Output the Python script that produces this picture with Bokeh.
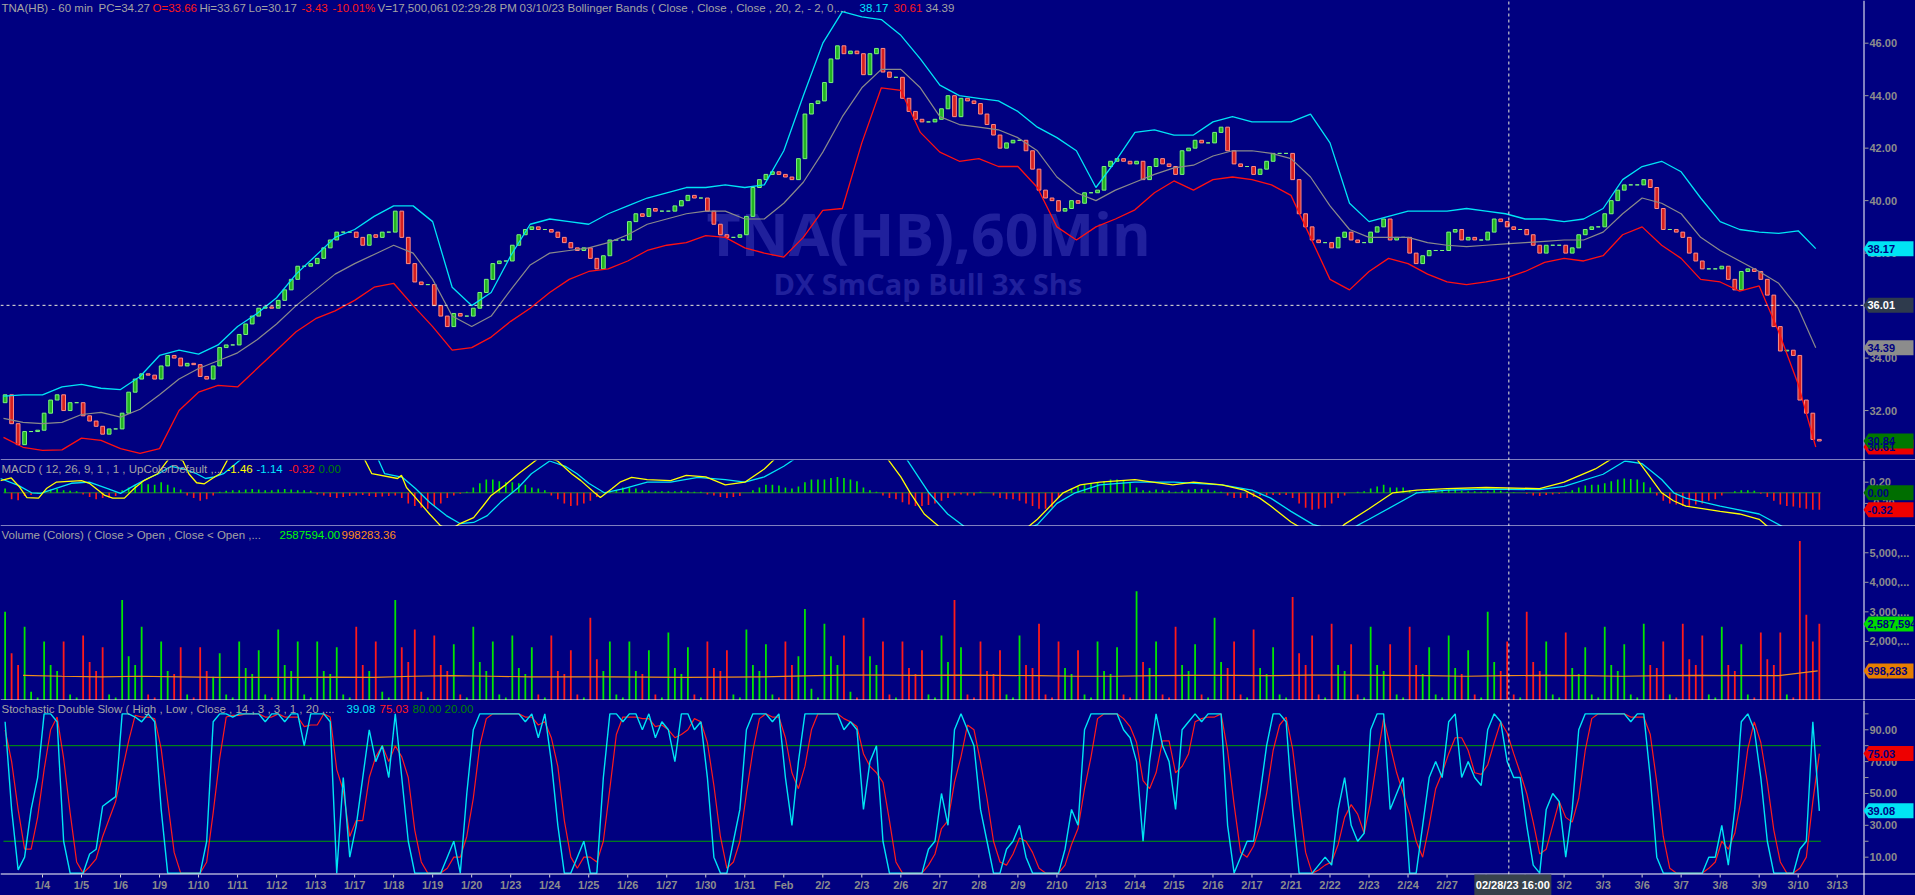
from bokeh.plotting import figure
from bokeh.layouts import column
from bokeh.models import ColumnDataSource, Range1d, Label
from bokeh.core.properties import value
from bokeh.embed import file_html
from bokeh.resources import INLINE

# ---------------- data ----------------
DAY_LABELS = ["1/4", "1/5", "1/6", "1/9", "1/10", "1/11", "1/12", "1/13", "1/17", "1/18",
              "1/19", "1/20", "1/23", "1/24", "1/25", "1/26", "1/27", "1/30", "1/31", "Feb",
              "2/2", "2/3", "2/6", "2/7", "2/8", "2/9", "2/10", "2/13", "2/14", "2/15",
              "2/16", "2/17", "2/21", "2/22", "2/23", "2/24", "2/27", "2/28", "3/1", "3/2",
              "3/3", "3/6", "3/7", "3/8", "3/9", "3/10", "3/13"]

FIRST_OPEN = 32.3
# 2-hour closes, 6 per session, first session = 1/3
CLOSE = [
    32.6, 31.5, 30.7, 31.2, 31.2, 31.25,
    31.9, 32.4, 32.6, 32.0, 32.3, 32.3,
    31.8, 31.6, 31.4, 31.1, 31.3, 31.3,
    31.9, 32.7, 33.2, 33.4, 33.35, 33.2,
    33.7, 34.1, 34.0, 33.7, 33.8, 33.75,
    33.3, 33.2, 33.7, 34.4, 34.5, 34.5,
    34.9, 35.3, 35.6, 35.9, 35.95, 35.9,
    36.2, 36.6, 37.0, 37.5, 37.5, 37.6,
    37.8, 38.2, 38.5, 38.8, 38.8, 38.8,
    38.6, 38.3, 38.7, 38.6, 38.8, 38.8,
    39.6, 38.6, 37.6, 36.9, 36.8, 36.8,
    36.0, 35.6, 35.2, 35.7, 35.6, 35.6,
    35.9, 36.5, 37.0, 37.6, 37.7, 37.7,
    38.3, 38.7, 38.9, 39.0, 38.9, 38.9,
    38.8, 38.6, 38.4, 38.2, 38.1, 38.2,
    37.8, 37.4, 37.9, 38.5, 38.5, 38.5,
    39.2, 39.5, 39.4, 39.7, 39.6, 39.6,
    39.6, 39.8, 40.0, 40.2, 40.1, 40.1,
    39.6, 39.1, 38.7, 38.6, 38.6, 38.7,
    39.4, 40.5, 40.8, 41.0, 41.1, 41.0,
    40.9, 40.8, 41.6, 43.3, 43.7, 43.8,
    44.5, 45.4, 45.9, 45.6, 45.7, 45.6,
    44.8, 45.6, 45.8, 44.9, 44.7, 44.7,
    43.9, 43.4, 43.1, 43.0, 43.0, 43.1,
    43.5, 44.0, 43.2, 43.9, 43.8, 43.7,
    43.3, 42.9, 42.5, 42.0, 42.2, 42.3,
    42.3, 41.9, 41.2, 40.4, 40.1, 40.0,
    39.6, 39.7, 40.0, 39.9, 40.3, 40.3,
    40.4, 41.3, 41.5, 41.6, 41.5, 41.4,
    41.5, 40.8, 41.3, 41.6, 41.4, 41.3,
    41.0, 41.9, 42.0, 42.3, 42.2, 42.2,
    42.6, 42.8, 41.9, 41.4, 41.3, 41.3,
    41.0, 41.2, 41.5, 41.8, 41.8, 41.8,
    40.8, 39.5, 39.0, 38.5, 38.4, 38.4,
    38.2, 38.6, 38.8, 38.5, 38.4, 38.4,
    38.8, 39.0, 39.3, 38.5, 38.6, 38.6,
    38.0, 37.6, 37.9, 38.1, 38.1, 38.1,
    38.8, 38.9, 38.5, 38.6, 38.5, 38.5,
    38.8, 39.3, 39.2, 39.0, 38.9, 38.9,
    38.7, 38.3, 38.0, 38.3, 38.3, 38.3,
    38.0, 38.2, 38.7, 38.9, 39.0, 39.0,
    39.5, 40.0, 40.4, 40.6, 40.6, 40.6,
    40.8, 40.5, 39.7, 38.9, 38.9, 38.8,
    38.6, 38.0, 37.7, 37.4, 37.4, 37.4,
    37.5, 37.0, 36.6, 37.3, 37.4, 37.3,
    37.0, 36.4, 35.2, 34.27, 34.3, 34.1,
    32.4, 31.9, 30.9, 30.84,
]

BB_DAY = [-1.0, -0.5, 0.0, 0.5, 1.0, 1.5, 2.0, 2.5, 3.0, 3.5, 4.0, 4.5, 5.0, 5.5, 6.0, 6.5,
          7.0, 7.5, 8.0, 8.5, 9.0, 9.5, 10.0, 10.5, 11.0, 11.5, 12.0, 12.5, 13.0, 13.5, 14.0,
          14.5, 15.0, 15.5, 16.0, 16.5, 17.0, 17.5, 18.0, 18.5, 19.0, 19.5, 20.0, 20.5, 21.0,
          21.5, 22.0, 22.5, 23.0, 23.5, 24.0, 24.5, 25.0, 25.5, 26.0, 26.5, 27.0, 27.5, 28.0,
          28.5, 29.0, 29.5, 30.0, 30.5, 31.0, 31.5, 32.0, 32.5, 33.0, 33.5, 34.0, 34.5, 35.0,
          35.5, 36.0, 36.5, 37.0, 37.5, 38.0, 38.5, 39.0, 39.5, 40.0, 40.5, 41.0, 41.5, 42.0,
          42.5, 43.0, 43.5, 44.0, 44.5, 45.0, 45.45]
BB_UPPER = [32.55, 32.6, 32.6, 32.9, 33.0, 32.85, 32.8, 33.3, 34.1, 34.3, 34.15, 34.5, 35.2,
            35.7, 36.3, 37.2, 37.9, 38.6, 38.9, 39.4, 39.8, 39.8, 39.2, 36.7, 36.0, 36.5, 37.9,
            39.1, 39.3, 39.2, 39.1, 39.5, 39.8, 40.1, 40.3, 40.5, 40.5, 40.6, 40.5, 40.6, 41.9,
            44.0, 46.0, 47.2, 47.0, 46.9, 46.3, 45.4, 44.4, 44.0, 43.9, 43.8, 43.4, 42.8, 42.4,
            41.9, 40.5, 41.5, 42.6, 42.7, 42.5, 42.5, 43.0, 43.2, 43.0, 43.0, 43.0, 43.3, 42.2,
            39.9, 39.2, 39.4, 39.6, 39.6, 39.6, 39.7, 39.6, 39.5, 39.3, 39.3, 39.2, 39.3, 39.7,
            40.8, 41.3, 41.5, 41.1, 40.1, 39.2, 38.9, 38.8, 38.75, 38.85, 38.17]
BB_MIDDLE = [31.7, 31.55, 31.5, 31.55, 31.85, 31.93, 31.75, 32.05, 32.6, 33.2, 33.6, 33.9,
             34.2, 34.7, 35.3, 36.0, 36.6, 37.2, 37.6, 37.95, 38.3, 38.0, 37.0, 35.6, 35.2,
             35.6, 36.6, 37.55, 38.0, 38.1, 38.2, 38.4, 38.7, 39.1, 39.3, 39.5, 39.6, 39.6,
             39.3, 39.3, 39.9, 40.7, 41.85, 43.2, 44.3, 45.0, 45.0, 44.3, 43.2, 42.9, 42.8,
             42.7, 42.4, 41.9, 40.9, 40.3, 40.0, 40.4, 40.7, 41.0, 41.25, 41.35, 41.7, 41.9,
             41.9, 41.8, 41.6, 40.9, 39.8, 38.9, 38.6, 38.6, 38.6, 38.4, 38.3, 38.25, 38.3,
             38.35, 38.4, 38.45, 38.5, 38.5, 38.8, 39.5, 40.1, 39.9, 39.5, 38.6, 38.1, 37.7,
             37.3, 36.85, 35.9, 34.39]
BB_LOWER = [30.98, 30.6, 30.48, 30.5, 30.95, 30.86, 30.55, 30.37, 30.55, 32.0, 32.7, 32.96,
            32.9, 33.6, 34.3, 35.0, 35.5, 35.8, 36.2, 36.7, 36.85, 36.0, 35.2, 34.3, 34.4,
            34.8, 35.4, 35.9, 36.5, 37.0, 37.3, 37.4, 37.7, 38.1, 38.3, 38.4, 38.67, 38.6,
            38.2, 38.0, 37.85, 38.6, 39.63, 39.7, 42.2, 44.3, 44.2, 42.6, 41.85, 41.5, 41.6,
            41.3, 41.3, 40.5, 39.0, 38.5, 39.0, 39.3, 39.65, 40.3, 40.75, 40.4, 40.8, 40.9,
            40.8, 40.6, 40.2, 38.6, 37.0, 36.6, 37.3, 37.8, 37.6, 37.2, 36.9, 36.8, 36.9,
            37.05, 37.3, 37.65, 37.8, 37.7, 37.9, 38.7, 39.0, 38.3, 37.8, 37.0, 36.9, 36.55,
            36.75, 35.0, 33.0, 30.61]

MACD_DAY = [-1.08, -0.8, -0.6, -0.4, -0.1, 0.1, 0.35, 1.0, 1.2, 1.6, 1.8, 2.1, 2.35, 2.6, 2.95,
            3.3, 3.6, 3.75, 3.95, 4.15, 4.35, 4.55, 4.8, 5.5, 7.0, 8.0, 8.44, 9.1, 9.2, 9.33,
            9.56, 9.92, 10.2, 10.45, 10.7, 11.05, 11.3, 11.5, 11.85, 12.2, 12.8, 13.2, 13.56,
            13.8, 14.15, 14.3, 14.6, 14.8, 15.1, 15.5, 16.1, 16.5, 17.0, 17.5, 18.0, 18.5, 19.0,
            20.0, 21.0, 21.5, 22.0, 22.24, 22.6, 23.0, 24.0, 25.0, 25.5, 26.16, 26.6, 27.1,
            28.0, 28.97, 29.5, 30.23, 30.8, 31.2, 31.48, 32.0, 32.57, 33.0, 33.36, 34.0, 34.61,
            35.23, 36.0, 37.0, 38.37, 39.0, 39.8, 40.24, 40.8, 41.2, 41.5, 41.8, 42.12, 43.0,
            43.5, 44.0, 44.63, 45.44]
MACD_LINE = [0.23, 0.28, 0.12, -0.09, -0.1, 0.08, 0.2, 0.23, 0.18, -0.05, -0.1, -0.1, 0.08,
             0.23, 0.36, 0.7, 0.6, 0.36, 0.19, 0.17, 0.27, 0.36, 0.7, 1.1, 1.4, 1.0, 0.36, 0.27,
             0.33, 0.1, -0.09, -0.4, -0.62, -0.7, -0.58, -0.47, -0.24, -0.05, 0.14, 0.36, 0.7,
             0.6, 0.36, 0.23, 0.0, -0.09, 0.08, 0.2, 0.29, 0.25, 0.23, 0.33, 0.3, 0.15, 0.2,
             0.45, 0.8, 1.6, 1.4, 0.8, 0.3, 0.0, -0.4, -0.65, -0.9, -0.8, -0.5, 0.0, 0.15, 0.2,
             0.25, 0.15, 0.2, 0.15, 0.05, -0.1, -0.25, -0.55, -0.8, -0.9, -0.6, -0.3, 0.0, 0.05,
             0.08, 0.1, 0.08, 0.2, 0.45, 0.65, 0.7, 0.3, 0.0, -0.15, -0.25, -0.35, -0.4, -0.5,
             -0.9, -1.46]
SIGNAL_DAY = [-1.08, -0.62, -0.28, -0.05, 0.74, 1.2, 1.67, 2.0, 2.36, 2.69, 2.97, 3.3, 3.6,
              3.95, 4.18, 4.4, 4.64, 5.2, 7.0, 8.5, 8.77, 9.23, 9.56, 9.92, 10.35, 10.7, 11.05,
              11.4, 11.74, 12.2, 12.53, 13.0, 13.4, 13.7, 14.0, 14.4, 14.9, 15.5, 16.1, 16.8,
              17.5, 18.0, 18.5, 19.0, 20.0, 21.0, 22.0, 22.72, 23.2, 23.65, 24.5, 25.5, 26.0,
              26.47, 27.1, 28.0, 29.0, 30.23, 31.0, 31.48, 32.0, 32.57, 33.36, 34.0, 35.23, 36.0,
              37.0, 38.37, 39.0, 40.0, 40.56, 41.0, 41.5, 41.81, 42.12, 43.0, 44.0, 44.63, 45.44]
SIGNAL_LINE = [0.27, 0.14, 0.0, -0.01, 0.18, 0.2, 0.08, -0.01, 0.14, 0.27, 0.36, 0.5, 0.45,
               0.36, 0.27, 0.3, 0.36, 0.7, 1.2, 0.8, 0.36, 0.29, 0.08, -0.18, -0.43, -0.58,
               -0.56, -0.43, -0.18, 0.1, 0.36, 0.6, 0.5, 0.36, 0.18, 0.0, 0.08, 0.2, 0.2, 0.29,
               0.25, 0.2, 0.3, 0.5, 1.0, 1.2, 0.8, 0.0, -0.4, -0.65, -0.9, -0.6, -0.2, 0.0, 0.15,
               0.2, 0.2, 0.15, 0.05, -0.1, -0.35, -0.6, -0.75, -0.5, 0.0, 0.05, 0.07, 0.06, 0.12,
               0.35, 0.6, 0.55, 0.25, 0.0, -0.1, -0.25, -0.4, -0.65, -1.14]
# histogram, 6 per session
MACD_HIST = [
    0.08, -0.12, -0.14, -0.06, -0.04, -0.02,
    0.03, 0.06, 0.07, 0.05, 0.04, 0.03,
    -0.03, -0.08, -0.12, -0.1, -0.09, -0.06,
    0.05, 0.1, 0.15, 0.18, 0.16, 0.15,
    0.2, 0.15, 0.1, 0.06, -0.05, -0.1,
    -0.15, -0.12, -0.05, 0.02, 0.04, 0.05,
    0.05, 0.06, 0.07, 0.06, 0.05, 0.05,
    0.06, 0.07, 0.06, 0.05, 0.05, 0.04,
    -0.03, -0.05, -0.08, -0.1, -0.08, -0.06,
    -0.05, -0.04, -0.06, -0.08, -0.07, -0.06,
    -0.05, -0.1, -0.2, -0.25, -0.28, -0.3,
    -0.25, -0.2, -0.1, -0.05, -0.02, 0.02,
    0.1, 0.18, 0.25, 0.25, 0.22, 0.2,
    0.2, 0.18, 0.15, 0.1, 0.08, 0.05,
    -0.05, -0.12, -0.2, -0.25, -0.24, -0.2,
    -0.15, -0.08, 0.0, 0.03, 0.05, 0.1,
    0.1, 0.08, 0.05, 0.04, 0.03, 0.03,
    0.03, 0.03, 0.04, 0.03, 0.02, 0.02,
    -0.03, -0.05, -0.08, -0.1, -0.08, -0.06,
    0.0, 0.05, 0.1, 0.15, 0.15, 0.14,
    0.1, 0.08, 0.12, 0.2, 0.25, 0.25,
    0.25, 0.28, 0.3, 0.28, 0.25, 0.22,
    0.1, 0.05, 0.02, -0.05, -0.1, -0.12,
    -0.18, -0.22, -0.25, -0.25, -0.23, -0.2,
    -0.15, -0.1, -0.05, -0.03, -0.05, -0.05,
    0.02, 0.0, -0.05, -0.1, -0.12, -0.12,
    -0.15, -0.2, -0.25, -0.3, -0.3, -0.28,
    -0.1, 0.0, 0.08, 0.12, 0.15, 0.18,
    0.2, 0.22, 0.25, 0.25, 0.23, 0.2,
    0.1, 0.05, 0.04, 0.06, 0.05, 0.04,
    0.02, 0.04, 0.06, 0.07, 0.07, 0.06,
    0.04, 0.02, -0.05, -0.1, -0.1, -0.1,
    -0.08, -0.06, -0.05, -0.04, -0.04, -0.04,
    -0.1, -0.2, -0.28, -0.32, -0.3, -0.28,
    -0.2, -0.1, -0.05, 0.0, 0.02, 0.03,
    0.08, 0.12, 0.15, 0.1, 0.1, 0.1,
    0.05, 0.02, 0.03, 0.05, 0.05, 0.04,
    0.06, 0.06, 0.04, 0.03, 0.03, 0.02,
    0.03, 0.05, 0.04, 0.02, 0.01, 0.0,
    -0.02, -0.05, -0.06, -0.04, -0.03, -0.02,
    0.02, 0.05, 0.1, 0.14, 0.15, 0.15,
    0.18, 0.22, 0.25, 0.27, 0.26, 0.25,
    0.2, 0.1, -0.05, -0.15, -0.2, -0.22,
    -0.25, -0.25, -0.22, -0.2, -0.15, -0.12,
    -0.05, 0.0, 0.03, 0.05, 0.05, 0.04,
    -0.02, -0.08, -0.15, -0.22, -0.25, -0.26,
    -0.28, -0.3, -0.32, -0.32,
]

# volume (millions), 6 per session
VOLUME_M = [
    3.0, 1.6, 1.2, 2.5, 0.3, 0.1,
    2.0, 1.2, 1.0, 2.0, 0.2, 0.1,
    2.2, 1.3, 1.0, 1.8, 0.2, 0.1,
    3.4, 1.5, 1.2, 2.5, 0.2, 0.1,
    2.0, 1.0, 0.9, 1.8, 0.2, 0.1,
    1.8, 1.0, 0.8, 1.6, 0.2, 0.1,
    2.0, 1.1, 0.9, 1.7, 0.2, 0.1,
    2.4, 1.2, 1.0, 2.0, 0.2, 0.1,
    2.0, 1.0, 0.9, 1.8, 0.2, 0.1,
    2.5, 1.2, 1.0, 2.0, 0.3, 0.1,
    3.4, 1.8, 1.3, 2.4, 0.3, 0.1,
    2.2, 1.2, 1.0, 1.9, 0.2, 0.1,
    2.5, 1.3, 1.0, 2.0, 0.2, 0.1,
    2.2, 1.1, 0.9, 1.8, 0.2, 0.1,
    2.2, 1.0, 0.9, 1.7, 0.2, 0.1,
    2.8, 1.4, 1.0, 2.0, 0.2, 0.1,
    2.0, 1.0, 0.9, 1.7, 0.2, 0.1,
    2.3, 1.1, 0.9, 1.8, 0.2, 0.1,
    2.0, 1.1, 1.0, 1.7, 0.2, 0.1,
    2.4, 1.2, 1.0, 1.9, 0.2, 0.1,
    2.0, 1.2, 1.5, 3.1, 0.4, 0.1,
    2.6, 1.5, 1.2, 2.2, 0.3, 0.1,
    2.8, 1.5, 1.2, 2.0, 0.2, 0.1,
    2.0, 1.1, 0.9, 1.7, 0.2, 0.1,
    2.2, 1.3, 3.4, 1.8, 0.2, 0.1,
    2.0, 1.0, 0.9, 1.7, 0.2, 0.1,
    2.2, 1.2, 1.1, 2.6, 0.2, 0.1,
    2.0, 1.1, 0.9, 1.7, 0.2, 0.1,
    2.0, 1.0, 0.9, 1.8, 0.2, 0.1,
    3.7, 1.3, 1.1, 2.0, 0.2, 0.1,
    2.5, 1.2, 1.0, 1.9, 0.2, 0.1,
    2.8, 1.3, 1.1, 2.0, 0.2, 0.1,
    2.4, 1.1, 0.9, 1.8, 0.2, 0.1,
    3.5, 1.6, 1.2, 2.2, 0.2, 0.1,
    2.6, 1.2, 1.0, 1.9, 0.2, 0.1,
    2.5, 1.2, 1.0, 1.9, 0.2, 0.1,
    2.5, 1.2, 0.9, 1.8, 0.2, 0.1,
    2.2, 1.1, 0.9, 1.7, 0.2, 0.1,
    3.0, 1.3, 1.0, 2.0, 0.2, 0.1,
    3.0, 1.3, 1.0, 2.0, 0.2, 0.1,
    2.3, 1.1, 0.9, 1.8, 0.2, 0.1,
    2.5, 1.2, 1.0, 1.9, 0.2, 0.1,
    2.6, 1.2, 1.1, 2.0, 0.2, 0.1,
    2.6, 1.4, 1.2, 2.2, 0.2, 0.1,
    2.5, 1.2, 1.0, 1.9, 0.2, 0.1,
    2.3, 1.4, 1.2, 2.3, 0.2, 0.1,
    5.4, 2.9, 2.0, 2.6,
]
VOLAVG_M = [0.85, 0.82, 0.8, 0.82, 0.8, 0.78, 0.78, 0.78, 0.79, 0.78, 0.82, 0.84, 0.82, 0.8,
            0.8, 0.8, 0.79, 0.78, 0.79, 0.8, 0.83, 0.86, 0.86, 0.85, 0.86, 0.85, 0.84, 0.82,
            0.82, 0.84, 0.85, 0.85, 0.84, 0.86, 0.86, 0.85, 0.84, 0.82, 0.84, 0.85, 0.84, 0.82,
            0.84, 0.85, 0.84, 0.84, 1.0]

# stochastic %K (cyan) and %D (red), 6 per session
STOCH_K = [
    95, 40, 2, 10, 40, 60,
    100, 100, 95, 20, 0, 0,
    0, 12, 15, 42, 45, 48,
    100, 100, 98, 95, 100, 95,
    40, 0, 0, 0, 0, 0,
    0, 20, 95, 100, 100, 98,
    100, 100, 100, 100, 95, 100,
    100, 95, 100, 100, 80, 100,
    100, 100, 95, 0, 60, 10,
    30, 60, 90, 70, 80, 60,
    100, 60, 20, 0, 0, 0,
    0, 0, 10, 20, 0, 50,
    90, 100, 100, 100, 100, 100,
    100, 100, 95, 100, 85, 100,
    70, 30, 0, 0, 10, 20,
    0, 0, 60, 100, 100, 95,
    100, 100, 90, 100, 85, 95,
    90, 70, 100, 100, 90, 95,
    60, 10, 0, 0, 20, 40,
    90, 100, 100, 100, 95, 100,
    60, 30, 70, 100, 100, 100,
    100, 100, 100, 90, 95, 90,
    40, 70, 80, 20, 0, 0,
    0, 0, 0, 0, 15, 20,
    50, 30, 90, 100, 90, 80,
    40, 20, 0, 0, 15, 20,
    30, 10, 0, 0, 0, 0,
    0, 15, 40, 30, 90, 100,
    100, 100, 100, 100, 90, 85,
    70, 20, 70, 100, 80, 70,
    40, 90, 95, 100, 95, 100,
    100, 100, 30, 0, 10, 20,
    20, 50, 80, 100, 100, 95,
    40, 0, 0, 0, 5, 10,
    5, 40, 60, 30, 20, 25,
    90, 100, 100, 40, 50, 60,
    0, 0, 30, 60, 70, 60,
    95, 100, 60, 70, 60, 55,
    90, 100, 95, 70, 60, 60,
    30, 5, 0, 40, 50, 45,
    10, 40, 90, 100, 100, 100,
    100, 100, 100, 100, 95, 100,
    100, 60, 10, 0, 0, 0,
    0, 0, 0, 0, 10, 10,
    30, 5, 40, 95, 100, 90,
    60, 20, 0, 0, 0, 0,
    15, 20, 95, 39.08,
]
STOCH_D = [
    90, 70, 40, 15, 15, 35,
    65, 90, 98, 72, 38, 7,
    0, 4, 9, 23, 34, 45,
    64, 83, 99, 98, 98, 97,
    78, 45, 13, 0, 0, 0,
    0, 7, 38, 72, 98, 99,
    99, 100, 100, 100, 98, 98,
    100, 98, 98, 98, 92, 93,
    93, 100, 98, 65, 52, 23,
    33, 33, 60, 73, 80, 70,
    80, 73, 60, 27, 7, 0,
    0, 0, 3, 10, 10, 23,
    47, 80, 97, 100, 100, 100,
    100, 100, 98, 98, 93, 95,
    85, 67, 33, 10, 3, 10,
    10, 7, 20, 53, 87, 98,
    98, 98, 97, 97, 92, 93,
    90, 85, 87, 90, 97, 95,
    82, 55, 23, 3, 7, 20,
    50, 77, 97, 100, 98, 98,
    85, 63, 53, 67, 90, 100,
    100, 100, 100, 97, 95, 92,
    75, 67, 63, 57, 33, 7,
    0, 0, 0, 0, 5, 12,
    28, 33, 57, 73, 93, 90,
    70, 47, 20, 7, 5, 12,
    22, 20, 13, 3, 0, 0,
    0, 5, 18, 28, 53, 73,
    97, 100, 100, 100, 97, 92,
    82, 58, 53, 63, 83, 83,
    63, 67, 75, 95, 97, 98,
    98, 100, 77, 43, 13, 10,
    17, 30, 50, 77, 93, 98,
    78, 45, 13, 0, 2, 5,
    7, 18, 35, 43, 37, 25,
    45, 72, 97, 80, 63, 50,
    37, 20, 10, 30, 53, 63,
    75, 85, 85, 77, 63, 62,
    68, 82, 95, 88, 75, 63,
    50, 32, 12, 15, 30, 45,
    35, 32, 47, 77, 97, 100,
    100, 100, 100, 100, 98, 98,
    98, 87, 57, 23, 3, 0,
    0, 0, 0, 0, 3, 7,
    20, 15, 25, 47, 78, 95,
    82, 57, 27, 7, 0, 0,
    3, 10, 45, 75.03,
]

# axis ticks and last-value tags
PRICE_TICKS = [32, 34, 36, 38, 40, 42, 44, 46]
PRICE_TAGS = [30.61, 30.84, 34.39, 36.01, 38.17]
MACD_TICKS = [-0.2, 0.0, 0.2]
MACD_TAGS = [0.0, -0.32]
VOL_TICKS_M = [1, 2, 3, 4, 5]
VOL_TAGS = [2587594, 998283]
STOCH_TICKS = [10, 30, 50, 70, 90]
STOCH_MINOR = [20, 40, 60, 80, 100]
STOCH_TAGS = [75.03, 39.08]
STOCH_LEVELS = [80, 20]

CROSS_PRICE = 36.01
CROSS_BAR = 37 * 12 + 7          # 02/28/23 16:00 bar

# ---------------- layout helpers ----------------
BG = "#000080"
FONT = "Liberation Sans"
X0_PX, SLOT_PX = 42.0, 3.2513     # pixel of first date tick, pixels per hourly slot
W = 1915
AXIS_PX = 1863
NAVY = "#000080"
GREY = "#a4a4a4"
AXGREY = "#8c8c8c"


def px_to_x(px):
    return (px - X0_PX) / SLOT_PX


XR = Range1d(px_to_x(0), px_to_x(W))

n = len(CLOSE)
bar_x = [12 * (k // 6 - 1) + 2 * (k % 6) + 0.5 for k in range(n)]
opens = [FIRST_OPEN] + CLOSE[:-1]
up = [c >= o for o, c in zip(opens, CLOSE)]
x_first, x_last = bar_x[0] - 0.5, bar_x[-1] + 0.5


class Panel:
    def __init__(self, top_px, h, yfun):
        self.top_px, self.h, self.yfun = top_px, h, yfun
        y0, y1 = yfun(top_px + h), yfun(top_px)
        p = figure(frame_width=W, frame_height=h, x_range=XR, y_range=Range1d(y0, y1),
                   output_backend="svg", toolbar_location=None, x_axis_location=None,
                   y_axis_location=None, min_border=0, background_fill_color=BG,
                   border_fill_color=BG, outline_line_color=None)
        p.grid.visible = False
        self.p = p

    def y(self, px):
        return self.yfun(px)

    def hline(self, px, color="white"):
        yy = self.y(px)
        self.p.segment(x0=[px_to_x(0)], x1=[px_to_x(W)], y0=[yy], y1=[yy],
                       line_color=color, line_width=1)

    def right_axis(self, ticks, labels, minor=(), bottom_px=None):
        p = self.p
        b = self.top_px + self.h if bottom_px is None else bottom_px
        p.segment(x0=[px_to_x(AXIS_PX + 0.5)], x1=[px_to_x(AXIS_PX + 0.5)],
                  y0=[self.y(b)], y1=[self.y(self.top_px)], line_color="white",
                  line_width=1)
        allt = list(ticks) + list(minor)
        p.segment(x0=[px_to_x(AXIS_PX + 1)] * len(allt), x1=[px_to_x(AXIS_PX + 5)] * len(allt),
                  y0=allt, y1=allt, line_color="#9a9a9a", line_width=1)
        p.text(x=[px_to_x(AXIS_PX + 6)] * len(ticks), y=list(ticks), text=labels,
               text_color=AXGREY, text_font=value(FONT), text_font_size="11px",
               text_font_style="bold", text_baseline="middle", text_align="left")

    def tags(self, vals, texts, fills, fgs):
        p = self.p
        unit = self.yfun(self.top_px) - self.yfun(self.top_px + 1)   # data units per px
        xs, ys = [], []
        for v in vals:
            t, b = v + 7.5 * unit, v - 7.5 * unit
            xs.append([px_to_x(AXIS_PX), px_to_x(AXIS_PX + 5), px_to_x(1913), px_to_x(1913),
                       px_to_x(AXIS_PX + 5)])
            ys.append([v, t, t, b, b])
        p.patches(xs, ys, fill_color=fills, line_color=None)
        p.text(x=[px_to_x(AXIS_PX + 4)] * len(vals), y=vals, text=texts, text_color=fgs,
               text_font=value(FONT), text_font_size="11px", text_font_style="bold",
               text_baseline="middle", text_align="left")

    def header(self, y_px, parts):
        for px, txt, col in parts:
            self.p.add_layout(Label(x=px_to_x(px + 1), y=self.y(y_px), text=txt,
                                    text_color=col, text_font=FONT, text_font_size="11.5px",
                                    text_baseline="middle", text_align="left"))

    def crosshair(self, bottom_px=None):
        b = self.top_px + self.h if bottom_px is None else bottom_px
        self.p.segment(x0=[CROSS_BAR], x1=[CROSS_BAR], y0=[self.y(b)], y1=[self.y(self.top_px)],
                       line_color="#eeeed8", line_width=1, line_dash="3 3")


# ---------------- price panel ----------------
P_TOP, P_PX = 47.627, 26.24
price = Panel(0, 460, lambda px: P_TOP - px / P_PX)
pp = price.p
pp.add_layout(Label(x=px_to_x(706), y=price.y(232), text="TNA(HB),60Min", text_color="#20209c",
                    text_font="Open Sans", text_font_size="59px", text_font_style="bold",
                    text_baseline="alphabetic", level="underlay"))
pp.add_layout(Label(x=px_to_x(773), y=price.y(283), text="DX SmCap Bull 3x Shs",
                    text_color="#20209c", text_font="Open Sans", text_font_size="29px",
                    text_font_style="bold", text_baseline="alphabetic", level="underlay"))

csrc = ColumnDataSource(dict(
    x=bar_x,
    top=[max(o, c) for o, c in zip(opens, CLOSE)],
    bottom=[min(o, c) for o, c in zip(opens, CLOSE)],
    fill=["#22b422" if u else "#d42020" for u in up],
    line=["#7cf47c" if u else "#ff8c84" for u in up],
))
pp.vbar(x="x", width=1.15, top="top", bottom="bottom", fill_color="fill",
        line_color="line", line_width=1, source=csrc)

bbx = [12 * d for d in BB_DAY]
pp.line(bbx, BB_MIDDLE, line_color="#8a8a8a", line_width=1.2)
pp.line(bbx, BB_UPPER, line_color="#00e4f4", line_width=1.3)
pp.line(bbx, BB_LOWER, line_color="#ff1010", line_width=1.3)

pp.segment(x0=[px_to_x(0)], x1=[px_to_x(AXIS_PX)], y0=[CROSS_PRICE], y1=[CROSS_PRICE],
           line_color="#eeeed8", line_width=1, line_dash="3 3")
price.crosshair()
price.hline(459.5)
price.right_axis(PRICE_TICKS, ["%.2f" % t for t in PRICE_TICKS])
price.tags(PRICE_TAGS, ["%.2f" % v for v in PRICE_TAGS],
           ["#ee0000", "#007800", "#8c8c8c", "#2e3a4c", "#00e4f4"],
           [NAVY, NAVY, NAVY, "#ffffff", NAVY])
price.header(7, [(0, "TNA(HB) - 60 min", GREY), (97, "PC=34.27", GREY),
                 (151, "O=33.66", "#ff1a1a"), (198, "Hi=33.67", GREY),
                 (247, "Lo=30.17", GREY), (300, "-3.43", "#ff1a1a"),
                 (331, "-10.01%", "#ff1a1a"), (376, "V=17,500,061", GREY),
                 (450, "02:29:28 PM", GREY), (518, "03/10/23", GREY),
                 (566, "Bollinger Bands ( Close , Close , Close , 20, 2, - 2, 0,...", GREY),
                 (858, "38.17", "#00e8ff"), (892, "30.61", "#ff1a1a"), (924, "34.39", GREY)])

# ---------------- MACD panel ----------------
M_ZERO_PX, M_UNIT = 492.3, 0.01887
macd = Panel(460, 66, lambda px: (M_ZERO_PX - px) * M_UNIT)
pm = macd.p
pm.line([x_first, x_last], [0, 0], line_color="#2f7f2f", line_width=1)
hist_col = ["#00e600" if v >= 0 else "#ff1a1a" for v in MACD_HIST]
pm.vbar(x=bar_x, width=0.5, top=MACD_HIST, bottom=0, fill_color=hist_col, line_color=None)
pm.line([12 * d for d in SIGNAL_DAY], SIGNAL_LINE, line_color="#00e4f4", line_width=1.3)
pm.line([12 * d for d in MACD_DAY], MACD_LINE, line_color="#ffff00", line_width=1.3)
macd.crosshair()
macd.hline(525.5)
macd.right_axis(MACD_TICKS, ["%.2f" % t for t in MACD_TICKS])
macd.tags(MACD_TAGS, ["%.2f" % v for v in MACD_TAGS], ["#006e00", "#ee0000"], [NAVY, NAVY])
macd.header(468, [(0, "MACD ( 12, 26, 9, 1 , 1 , UpColorDefault ,...", GREY),
                  (225, "-1.46", "#ffff00"), (255, "-1.14", "#00e8ff"),
                  (287, "-0.32", "#ff1a1a"), (317, "0.00", "#008000")])

# ---------------- volume panel ----------------
V_ZERO_PX, V_PX_PER_M = 700.0, 29.55
vol = Panel(526, 174, lambda px: (V_ZERO_PX - px) / V_PX_PER_M * 1e6)
pv = vol.p
vol_col = ["#00e600" if u else "#ff1a1a" for u in up]
pv.vbar(x=bar_x, width=0.55, top=[v * 1e6 for v in VOLUME_M], bottom=0,
        fill_color=vol_col, line_color=None)
pv.line([12 * d + 6 for d in range(-1, len(VOLAVG_M) - 1)], [v * 1e6 for v in VOLAVG_M],
        line_color="#f08c1c", line_width=1.2)
vol.crosshair()
vol.hline(699.5)
vol.right_axis([t * 1e6 for t in VOL_TICKS_M], ["%d,000,..." % t for t in VOL_TICKS_M])
vol.tags(VOL_TAGS, ["{:,}".format(v) for v in VOL_TAGS], ["#00dc00", "#e67e00"], [NAVY, NAVY])
vol.header(534, [(0, "Volume (Colors) ( Close > Open , Close < Open ,...", GREY),
                 (278, "2587594.00", "#00ff00"), (340, "998283.36", "#ff8c1a")])

# ---------------- stochastic panel (+ date strip) ----------------
S_ZERO_PX, S_PX = 872.6, 1.5925
st = Panel(700, 195, lambda px: (S_ZERO_PX - px) / S_PX)
ps = st.p
for lvl in STOCH_LEVELS:
    ps.line([x_first, x_last], [lvl, lvl], line_color="#00a000", line_width=1)
ps.line(bar_x, STOCH_D, line_color="#ff1a1a", line_width=1.2)
ps.line(bar_x, STOCH_K, line_color="#00e4f4", line_width=1.4)
st.crosshair(bottom_px=874)
st.hline(873.5)
st.right_axis(STOCH_TICKS, ["%.2f" % t for t in STOCH_TICKS], minor=STOCH_MINOR)
st.tags(STOCH_TAGS, ["%.2f" % v for v in STOCH_TAGS], ["#ee0000", "#00e4f4"], [NAVY, NAVY])
st.header(708, [(0, "Stochastic Double Slow ( High , Low , Close , 14 , 3 , 3 , 1 , 20 ,...", GREY),
                (345, "39.08", "#00e8ff"), (378, "75.03", "#ff1a1a"),
                (411, "80.00", "#008000"), (443, "20.00", "#008000")])

# date axis strip
tick_x = [12 * i for i in range(len(DAY_LABELS))]
ps.segment(x0=tick_x, x1=tick_x, y0=[st.y(874)] * len(tick_x), y1=[st.y(877)] * len(tick_x),
           line_color="#d0d0d0", line_width=1)
ps.text(x=tick_x, y=[st.y(884.5)] * len(tick_x), text=DAY_LABELS, text_color=AXGREY,
        text_font=value(FONT), text_font_size="11px", text_font_style="bold",
        text_baseline="middle", text_align="center")
box_c = CROSS_BAR + 4 / SLOT_PX
ps.quad(left=[box_c - 38.5 / SLOT_PX], right=[box_c + 38.5 / SLOT_PX], top=[st.y(874)],
        bottom=[st.y(895)], fill_color="#37424c", line_color=None)
ps.text(x=[box_c], y=[st.y(884.5)], text=["02/28/23 16:00"], text_color="white",
        text_font=value(FONT), text_font_size="11px", text_font_style="bold",
        text_baseline="middle", text_align="center")

layout = column(pp, pm, pv, ps, spacing=0)

html = file_html(layout, INLINE, title="TNA(HB) - 60 min")
html = html.replace("<head>", "<head><style>html,body{margin:0;padding:0;background:#000080;"
                    "overflow:hidden;}</style>", 1)
open("out.html", "w").write(html)
